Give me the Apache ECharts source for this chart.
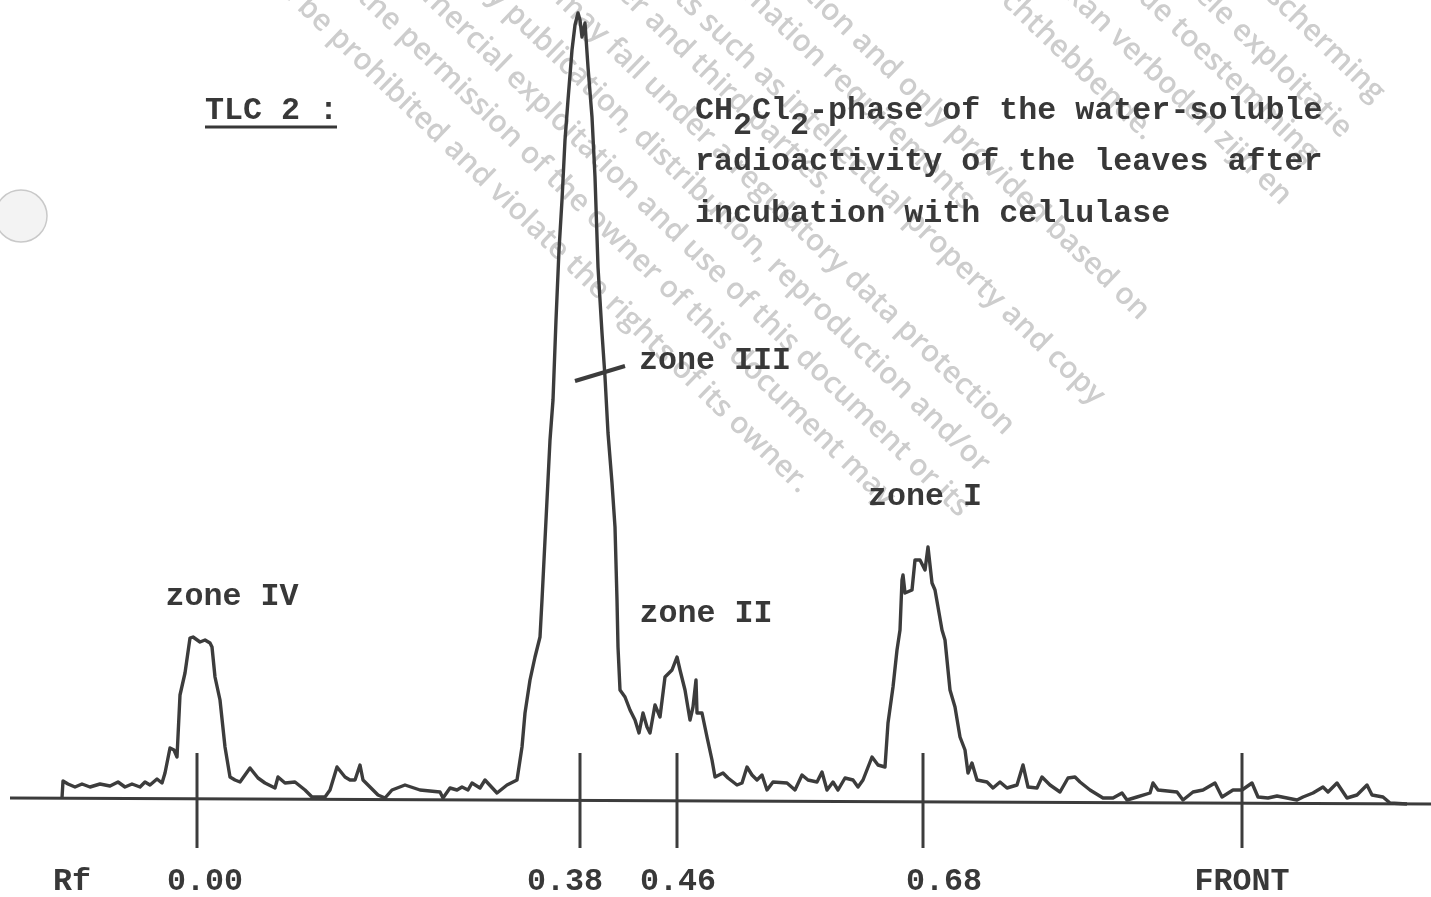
<!DOCTYPE html>
<html>
<head>
<meta charset="utf-8">
<title>TLC 2</title>
<script src="https://cdn.jsdelivr.net/npm/echarts@6/dist/echarts.min.js"></script>
<style>
  html, body { margin: 0; padding: 0; background: #fff; }
  #chart { width: 1431px; height: 897px; }
</style>
</head>
<body>
<div id="chart"></div>
<script>
// scan distance along the plate (arbitrary units) and measured radioactivity (arbitrary units)
const trackPos = [62, 63, 68, 75, 82, 90, 100, 110, 118, 125, 132, 140, 145, 150, 157, 162, 165, 170, 174, 177,
  180, 185, 190, 193, 200, 205, 210, 212, 215, 220, 225, 230, 235, 240, 250, 258, 265, 275, 278, 285,
  295, 305, 312, 325, 330, 337, 345, 350, 355, 360, 363, 370, 378, 385, 392, 405, 420, 440, 443, 450,
  457, 462, 468, 472, 480, 485, 497, 507, 517, 522, 525, 530, 535, 540, 542, 546, 550, 553, 556, 559,
  562, 565, 568, 572, 575, 578, 580, 582, 585, 588, 592, 595, 598, 602, 605, 608, 612, 615, 617, 618,
  620, 625, 630, 635, 639, 643, 647, 650, 655, 660, 665, 672, 677, 680, 685, 690, 693, 696, 697, 702,
  707, 712, 715, 723, 728, 737, 742, 747, 752, 757, 762, 767, 773, 787, 795, 802, 808, 817, 822, 827,
  833, 838, 845, 853, 858, 863, 872, 878, 885, 888, 893, 897, 900, 902, 903, 905, 912, 915, 920, 925,
  928, 930, 932, 935, 938, 942, 945, 950, 955, 960, 965, 968, 972, 977, 987, 993, 1000, 1007, 1017, 1023,
  1028, 1037, 1042, 1050, 1060, 1068, 1075, 1080, 1090, 1103, 1113, 1122, 1127, 1137, 1150, 1153, 1158, 1177, 1183, 1193,
  1203, 1215, 1222, 1233, 1242, 1252, 1258, 1268, 1277, 1287, 1297, 1303, 1313, 1323, 1328, 1337, 1347, 1357, 1367, 1372,
  1383, 1390, 1407];
const counts = [2, 19, 16, 13, 16, 13, 16, 14, 18, 13, 16, 13, 18, 15, 21, 17, 27, 52, 50, 43,
  105, 127, 162, 163, 158, 160, 157, 153, 123, 100, 53, 23, 20, 18, 32, 22, 17, 12, 23, 17,
  18, 10, 3, 3, 10, 33, 23, 20, 20, 35, 20, 13, 5, 2, 10, 15, 10, 8, 2, 12,
  10, 13, 10, 17, 12, 20, 7, 15, 20, 53, 87, 120, 143, 163, 200, 280, 360, 400, 480, 550,
  600, 660, 700, 750, 775, 787, 780, 763, 777, 733, 683, 623, 533, 467, 423, 367, 317, 273, 200, 153,
  110, 103, 90, 80, 67, 87, 73, 67, 95, 83, 123, 130, 143, 130, 110, 80, 93, 120, 87, 87,
  63, 40, 23, 27, 22, 15, 17, 33, 25, 20, 25, 10, 18, 17, 10, 25, 20, 18, 28, 10,
  18, 10, 22, 20, 13, 20, 43, 35, 33, 77, 113, 150, 170, 220, 225, 207, 210, 240, 240, 230,
  253, 255, 217, 210, 193, 170, 160, 110, 93, 63, 50, 27, 37, 20, 18, 12, 18, 12, 15, 35,
  13, 12, 23, 15, 8, 22, 23, 18, 10, 2, 2, 7, 0, 3, 7, 17, 10, 8, 0, 8,
  10, 17, 3, 10, 10, 17, 3, 2, 4, 2, 0, 3, 7, 13, 8, 17, 2, 5, 15, 5,
  3, -3, -4];

// recorder base line (slightly tilted on the scan)
const baseX = [10, 1431];
const baseY = [2, -4];

// Rf marks on the plate
const rfTickPos = [197, 580, 677, 923, 1242];
const rfLabels = ['Rf', '0.00', '0.38', '0.46', '0.68', 'FRONT'];
const rfLabelPos = [72, 205, 565, 678, 944, 1242];

// zone annotations
const zoneNames = ['zone IV', 'zone III', 'zone II', 'zone I'];
const zoneX = [232, 715, 706, 925];
const zoneY = [203, 439, 186, 303];

// watermark lines: [end x, end y, text]
const watermark = [
  [805, 488, 'therefore be prohibited and violate the rights of its owner.'],
  [890, 502, 'contents without the permission of the owner of this document may'],
  [965, 512, 'and any commercial exploitation and use of this document or its'],
  [985, 468, 'Consequently, any publication, distribution, reproduction and/or'],
  [1010, 430, 'this document may fall under a regulatory data protection'],
  [830, 190, 'rights of the owner and third parties.'],
  [1100, 400, 'It may be subject to rights such as intellectual property and copy'],
  [970, 205, 'in accordance with information requirements'],
  [1145, 315, 'subject to data protection and only provided based on'],
  [1150, 135, 'de rechthebbende.'],
  [1287, 200, 'kan verboden zijn en'],
  [1313, 157, 'zonder de toestemming'],
  [1347, 133, 'en commerciële exploitatie'],
  [1380, 97, 'regelgeving inzake gegevensbescherming']
];

const mono = '"Liberation Mono", "Courier New", monospace';
const ink = '#383838';
const txtFont = 'bold 31.7px ' + mono;

const chart = echarts.init(document.getElementById('chart'));

const tracePts = trackPos.map((x, i) => [x, counts[i]]);
const basePts = baseX.map((x, i) => [x, baseY[i]]);

const wmAngle = -44 * Math.PI / 180;

chart.setOption({
  backgroundColor: '#ffffff',
  animation: false,
  grid: { left: 0, right: 0, top: 0, bottom: 0 },
  xAxis: { type: 'value', min: 0, max: 1431, show: false },
  yAxis: { type: 'value', min: -97, max: 800, show: false },
  graphic: [
    // hole punch of the scanned page
    { type: 'circle', shape: { cx: 21, cy: 216, r: 26 }, style: { fill: '#f3f3f3', stroke: '#c9c9c9', lineWidth: 1.5 }, z: -2 },
    ...watermark.map(w => ({
      type: 'text', x: w[0], y: w[1], rotation: wmAngle, z: -1,
      style: { text: w[2], font: '600 30px "Open Sans", sans-serif', fill: '#cdcdcd', align: 'right', verticalAlign: 'middle' }
    })),
    { type: 'text', x: 205, y: 111, style: { text: 'TLC 2 :', font: txtFont, fill: ink, align: 'left', verticalAlign: 'middle' } },
    { type: 'line', shape: { x1: 205, y1: 127, x2: 337, y2: 127 }, style: { stroke: ink, lineWidth: 3 } },
    { type: 'text', x: 695, y: 111, style: {
        text: 'CH{s|2}Cl{s|2}-phase of the water-soluble', font: txtFont, fill: ink,
        align: 'left', verticalAlign: 'middle',
        rich: { s: { font: txtFont, fill: ink, padding: [30, 0, 0, 0] } }
      } },
    { type: 'text', x: 695, y: 162, style: { text: 'radioactivity of the leaves after', font: txtFont, fill: ink, align: 'left', verticalAlign: 'middle' } },
    { type: 'text', x: 695, y: 214, style: { text: 'incubation with cellulase', font: txtFont, fill: ink, align: 'left', verticalAlign: 'middle' } }
  ],
  series: [
    {
      name: 'base line', type: 'line', data: basePts, symbol: 'none', silent: true,
      lineStyle: { color: '#3c3c3c', width: 3 }, z: 3
    },
    {
      name: 'radioactivity', type: 'line', data: tracePts, symbol: 'none', silent: true,
      lineStyle: { color: '#3c3c3c', width: 3.4, join: 'round' }, z: 4
    },
    {
      name: 'Rf ticks', type: 'custom', data: rfTickPos.map(x => [x, 0]), silent: true, z: 5,
      renderItem: (params, api) => {
        const a = api.coord([api.value(0), 47]);
        const b = api.coord([api.value(0), -48]);
        return { type: 'line', shape: { x1: a[0], y1: a[1], x2: b[0], y2: b[1] }, style: { stroke: '#3c3c3c', lineWidth: 3 } };
      }
    },
    {
      name: 'Rf labels', type: 'custom', data: rfLabelPos.map(x => [x, -82]), silent: true, z: 5,
      renderItem: (params, api) => {
        const p = api.coord([api.value(0), api.value(1)]);
        return { type: 'text', x: p[0], y: p[1], style: { text: rfLabels[params.dataIndex], font: txtFont, fill: ink, align: 'center', verticalAlign: 'middle' } };
      }
    },
    {
      name: 'zones', type: 'custom', data: zoneX.map((x, i) => [x, zoneY[i]]), silent: true, z: 5,
      renderItem: (params, api) => {
        const p = api.coord([api.value(0), api.value(1)]);
        return { type: 'text', x: p[0], y: p[1], style: { text: zoneNames[params.dataIndex], font: txtFont, fill: ink, align: 'center', verticalAlign: 'middle' } };
      }
    },
    {
      name: 'zone III pointer', type: 'custom', data: [[575, 419, 625, 434]], silent: true, z: 5,
      renderItem: (params, api) => {
        const a = api.coord([api.value(0), api.value(1)]);
        const b = api.coord([api.value(2), api.value(3)]);
        return { type: 'line', shape: { x1: a[0], y1: a[1], x2: b[0], y2: b[1] }, style: { stroke: '#3c3c3c', lineWidth: 4 } };
      }
    }
  ]
});
</script>
</body>
</html>
